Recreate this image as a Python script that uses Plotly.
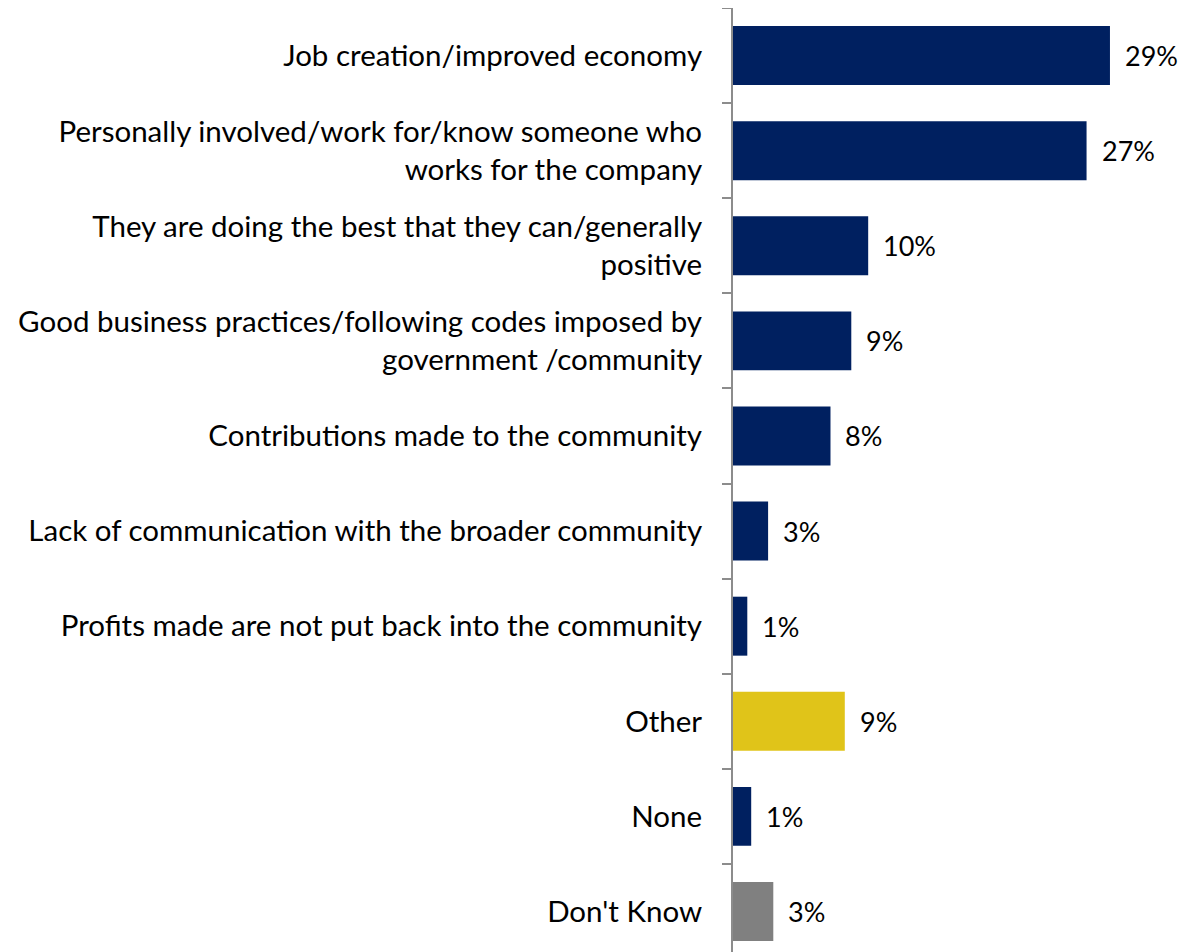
import plotly.graph_objects as go

categories = [
    "Job creation/improved economy",
    "Personally involved/work for/know someone who<br>works for the company",
    "They are doing the best that they can/generally<br>positive",
    "Good business practices/following codes imposed by<br>government /community",
    "Contributions made to the community",
    "Lack of communication with the broader community",
    "Profits made are not put back into the community",
    "Other",
    "None",
    "Don't Know",
]
values = [29.0, 27.2, 10.4, 9.1, 7.5, 2.7, 1.1, 8.6, 1.4, 3.1]
labels = ["29%", "27%", "10%", "9%", "8%", "3%", "1%", "9%", "1%", "3%"]
colors = ["#002060"] * 7 + ["#E0C419", "#002060", "#808080"]

FONT = "Lato"
FS = 29.5
fig = go.Figure()
fig.add_trace(go.Bar(
    y=categories, x=values, orientation="h",
    marker=dict(color=colors, line=dict(width=0)),
    hoverinfo="skip",
))
for c, v, t in zip(categories, values, labels):
    fig.add_annotation(x=v, y=c, text=t, xanchor="left", yanchor="middle",
                       xshift=13, showarrow=False,
                       font=dict(family=FONT, size=27, color="#000000"))

fig.update_layout(
    width=1178, height=944,
    margin=dict(l=725, r=0, t=0, b=0),
    paper_bgcolor="white", plot_bgcolor="white",
    bargap=0.38, showlegend=False,
    font=dict(family=FONT, size=FS, color="#000000"),
)
fig.update_xaxes(range=[0, 34.85], visible=False, showgrid=False, zeroline=False)
fig.update_yaxes(
    categoryorder="array", categoryarray=categories,
    range=[9.426, -0.5], automargin=False,
    showline=True, linecolor="#8C8C8C", linewidth=2,
    ticks="outside", ticklen=9, tickwidth=2, tickcolor="#8C8C8C",
    tickson="boundaries", ticklabelstandoff=23,
    showgrid=False, zeroline=False,
    tickfont=dict(family=FONT, size=FS, color="#000000"),
)
fig.write_html("out.html")
